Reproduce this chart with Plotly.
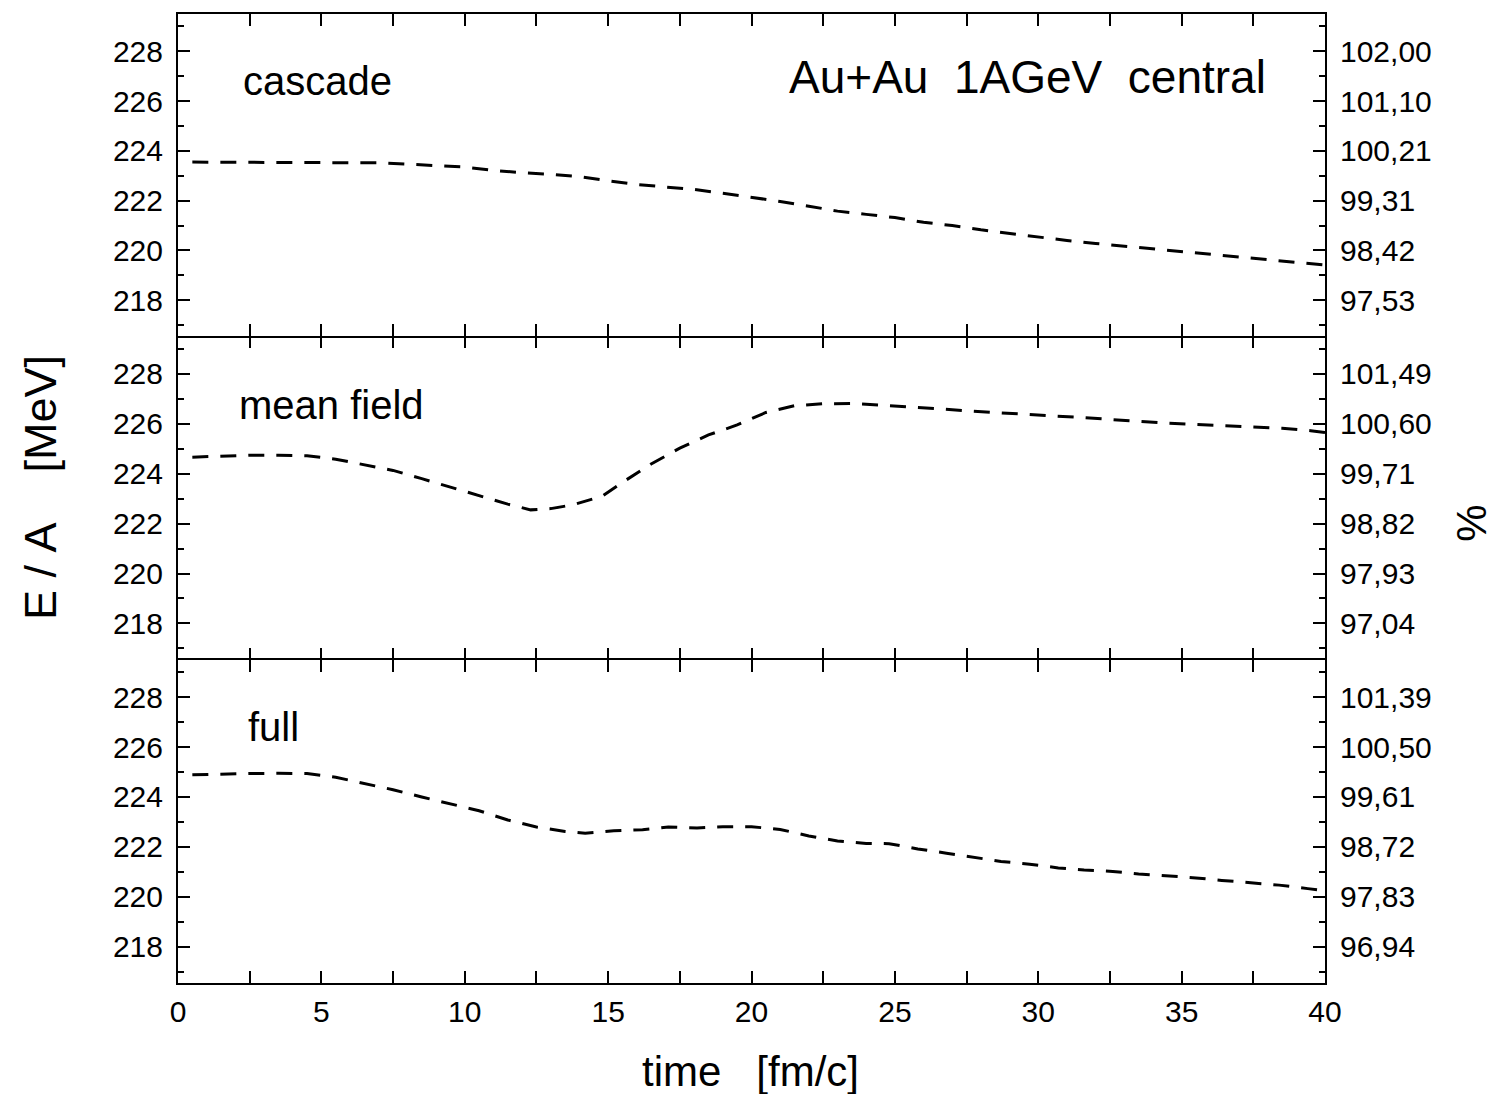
import plotly.graph_objects as go

# ---------------- data ----------------
t_cascade = [0.5, 2, 4, 6, 7, 8, 9, 10, 11, 12, 13, 14, 15, 16, 17, 18, 19, 20, 21, 22, 23,
             24, 25, 26, 27, 28, 29, 30, 31, 32, 33, 34, 35, 36, 37, 38, 39, 40]
e_cascade = [223.55, 223.55, 223.55, 223.55, 223.52, 223.47, 223.42, 223.35, 223.22, 223.12,
             223.06, 222.97, 222.80, 222.65, 222.55, 222.45, 222.30, 222.15, 221.97, 221.78,
             221.58, 221.45, 221.32, 221.13, 221.00, 220.83, 220.68, 220.54, 220.40, 220.28,
             220.17, 220.05, 219.95, 219.84, 219.72, 219.62, 219.52, 219.42]

t_mean = [0.5, 1.5, 2.5, 3.5, 4.5, 5.5, 6.5, 7.5, 8.5, 9.5, 10.5, 11.5, 12.3, 13, 13.8, 14.8,
          15.5, 16.5, 17.5, 18.5, 19.5, 20.5, 21.5, 22.5, 23.5, 24.5, 25.5, 26.5, 27.5, 28.5,
          29.5, 30.5, 31.5, 32.5, 33.5, 34.5, 35.5, 36.5, 37.5, 38.5, 39.5, 40]
e_mean = [224.66, 224.71, 224.74, 224.74, 224.72, 224.58, 224.37, 224.13, 223.80, 223.45,
          223.13, 222.78, 222.55, 222.60, 222.76, 223.10, 223.65, 224.39, 225.02, 225.55,
          225.95, 226.45, 226.72, 226.80, 226.81, 226.75, 226.68, 226.60, 226.52, 226.44,
          226.38, 226.31, 226.25, 226.17, 226.09, 226.02, 225.97, 225.92, 225.88, 225.82,
          225.72, 225.65]

t_full = [0.5, 1.5, 2.5, 3.5, 4.5, 5.5, 6.5, 7.5, 8.5, 9.5, 10.5, 11.5, 12.5, 13.5, 14.2, 15.2,
          16.2, 17.1, 18.1, 19, 20, 21, 22, 23, 24, 24.8, 25.8, 26.8, 27.7, 28.7, 29.7, 30.7,
          31.6, 32.6, 33.5, 34.5, 35.5, 36.4, 37.4, 38.4, 39.4, 40]
e_full = [224.89, 224.93, 224.94, 224.95, 224.94, 224.79, 224.55, 224.29, 224.00, 223.73,
          223.45, 223.08, 222.80, 222.62, 222.55, 222.65, 222.69, 222.80, 222.76, 222.81,
          222.81, 222.70, 222.44, 222.24, 222.14, 222.13, 221.92, 221.75, 221.58, 221.42,
          221.31, 221.16, 221.08, 221.02, 220.92, 220.85, 220.76, 220.66, 220.57, 220.47,
          220.33, 220.25]

left_ticks = [218, 220, 222, 224, 226, 228]
pct_cascade = ["97,53", "98,42", "99,31", "100,21", "101,10", "102,00"]
pct_mean = ["97,04", "97,93", "98,82", "99,71", "100,60", "101,49"]
pct_full = ["96,94", "97,83", "98,72", "99,61", "100,50", "101,39"]

title_text = "Au+Au\u00a0\u00a01AGeV\u00a0\u00a0central"

# ---------------- figure ----------------
FONT = "Liberation Sans, Arial, sans-serif"
TICK = 30
YR = [216.55, 229.5]
d1 = 324 / 971
d2 = 648 / 971
domains = [[0, d1], [d1, d2], [d2, 1]]

fig = go.Figure()

series = [(t_full, e_full, pct_full), (t_mean, e_mean, pct_mean), (t_cascade, e_cascade, pct_cascade)]

layout = dict(
    width=1501, height=1094,
    margin=dict(l=178, r=176, t=12, b=111),
    paper_bgcolor="white", plot_bgcolor="white",
    showlegend=False,
    font=dict(family=FONT, size=TICK, color="black"),
)

for i, (tt, ee, pct) in enumerate(series):
    xid = "x" if i == 0 else f"x{i+1}"
    yid = "y" if i == 0 else f"y{i+1}"
    rid = f"y{i+4}"
    fig.add_trace(go.Scatter(x=tt, y=ee, xaxis=xid, yaxis=yid, mode="lines",
                             line=dict(color="black", width=3, dash="16px,12px"),
                             hoverinfo="skip"))
    fig.add_trace(go.Scatter(x=tt, y=ee, xaxis=xid, yaxis=rid, mode="lines",
                             line=dict(color="rgba(0,0,0,0)", width=0),
                             hoverinfo="skip"))
    xkey = "xaxis" if i == 0 else f"xaxis{i+1}"
    ykey = "yaxis" if i == 0 else f"yaxis{i+1}"
    rkey = f"yaxis{i+4}"
    layout[xkey] = dict(
        domain=[0, 1], anchor=yid, range=[0, 40], tick0=0, dtick=5,
        ticks="inside", ticklen=12, tickwidth=2, tickcolor="black",
        minor=dict(dtick=2.5, tick0=0, ticks="inside", ticklen=6, tickwidth=2, tickcolor="black"),
        showline=(i != 1), linewidth=2, linecolor="black", mirror="allticks",
        showgrid=False, zeroline=False,
        showticklabels=(i == 0), ticklabelstandoff=1,
        tickfont=dict(size=TICK, family=FONT),
    )
    if i > 0:
        layout[xkey]["matches"] = "x"
    layout[ykey] = dict(
        domain=domains[i], anchor=xid, range=YR,
        tickmode="array", tickvals=left_ticks,
        ticks="inside", ticklen=12, tickwidth=2, tickcolor="black",
        minor=dict(dtick=1, tick0=217, ticks="inside", ticklen=6, tickwidth=2, tickcolor="black"),
        showline=True, linewidth=2, linecolor="black", mirror="allticks",
        showgrid=False, zeroline=False, ticklabelstandoff=7,
        tickfont=dict(size=TICK, family=FONT),
    )
    layout[rkey] = dict(
        overlaying=yid, anchor=xid, side="right", range=YR,
        tickmode="array", tickvals=left_ticks, ticktext=pct,
        ticks="", showline=False, showgrid=False, zeroline=False,
        ticklabelstandoff=14, tickfont=dict(size=TICK, family=FONT),
    )

fig.update_layout(**layout)

ann = [
    dict(text="cascade", x=0.0549, y=0.931, xanchor="left", yanchor="middle", size=40, angle=0),
    dict(text="mean field", x=0.0514, y=0.5963, xanchor="left", yanchor="middle", size=40, angle=0),
    dict(text="full", x=0.0593, y=0.2647, xanchor="left", yanchor="middle", size=40, angle=0),
    dict(text=title_text, x=0.9503, y=0.935, xanchor="right", yanchor="middle", size=46, angle=0),
    dict(text="time\u00a0\u00a0\u00a0[fm/c]", x=0.4987, y=-0.0917, xanchor="center", yanchor="middle", size=42, angle=0),
    dict(text="E\u00a0/\u00a0A\u00a0\u00a0\u00a0\u00a0[MeV]", x=-0.1203, y=0.5108, xanchor="center", yanchor="middle", size=45, angle=-90),
    dict(text="%", x=1.128, y=0.4748, xanchor="center", yanchor="middle", size=42, angle=-90),
]
for a in ann:
    fig.add_annotation(text=a["text"], x=a["x"], y=a["y"], xref="paper", yref="paper",
                       xanchor=a["xanchor"], yanchor=a["yanchor"], showarrow=False,
                       textangle=a["angle"], font=dict(size=a["size"], family=FONT, color="black"))

fig.write_html("out.html")
